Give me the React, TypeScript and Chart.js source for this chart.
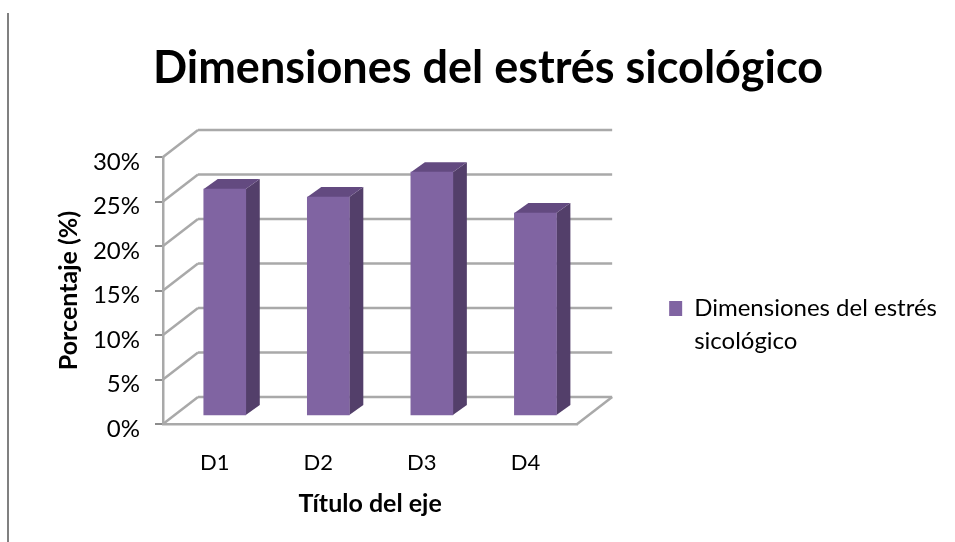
import React, { useEffect, useRef } from "react";
import { Chart, registerables } from "chart.js";

Chart.register(...registerables);

const titleText = "Dimensiones del estrés sicológico";
const seriesName = ["Dimensiones del estrés", "sicológico"];
const categories = ["D1", "D2", "D3", "D4"];
const values = [25.5, 24.6, 27.4, 22.8];
const yTitle = "Porcentaje (%)";
const xTitle = "Título del eje";

const FONT = "Lato, 'Open Sans', sans-serif";
const GRID = "#a9a9a9";
const WALL_DX = 35;
const WALL_DY = 27;
const BAR_DX = 10;
const BAR_DY = 8;
const SIDE_DX = 14;
const SIDE_DY = 10;

const line = (ctx: CanvasRenderingContext2D, x1: number, y1: number, x2: number, y2: number) => {
  ctx.beginPath();
  ctx.moveTo(x1, y1);
  ctx.lineTo(x2, y2);
  ctx.stroke();
};

const wall3d = {
  id: "wall3d",
  beforeDatasetsDraw(chart: any) {
    const { ctx, chartArea: a, scales } = chart;
    ctx.save();
    ctx.strokeStyle = GRID;
    ctx.lineWidth = 2.5;
    scales.y.ticks.forEach((t: any) => {
      const y = scales.y.getPixelForValue(t.value);
      line(ctx, a.left, y, a.left + WALL_DX, y - WALL_DY);
      line(ctx, a.left + WALL_DX, y - WALL_DY, a.right + WALL_DX, y - WALL_DY);
    });
    line(ctx, a.right, a.bottom, a.right + WALL_DX, a.bottom - WALL_DY);
    ctx.restore();
  },
  beforeDatasetDraw(chart: any) {
    const ctx = chart.ctx;
    ctx.save();
    ctx.translate(BAR_DX, -BAR_DY);
    chart.getDatasetMeta(0).data.forEach((b: any) => {
      const l = b.x - b.width / 2;
      const r = b.x + b.width / 2;
      ctx.fillStyle = "#533f6a";
      ctx.beginPath();
      ctx.moveTo(r, b.y);
      ctx.lineTo(r + SIDE_DX, b.y - SIDE_DY);
      ctx.lineTo(r + SIDE_DX, b.base - SIDE_DY);
      ctx.lineTo(r, b.base);
      ctx.closePath();
      ctx.fill();
      ctx.fillStyle = "#634a80";
      ctx.beginPath();
      ctx.moveTo(l, b.y);
      ctx.lineTo(l + SIDE_DX, b.y - SIDE_DY);
      ctx.lineTo(r + SIDE_DX, b.y - SIDE_DY);
      ctx.lineTo(r, b.y);
      ctx.closePath();
      ctx.fill();
    });
  },
  afterDatasetDraw(chart: any) {
    chart.ctx.restore();
  },
};

export default function App() {
  const ref = useRef<HTMLCanvasElement>(null);
  useEffect(() => {
    const chart = new Chart(ref.current!, {
      type: "bar",
      data: {
        labels: categories,
        datasets: [
          {
            label: seriesName.join(" "),
            data: values,
            backgroundColor: "#8064a2",
            borderWidth: 0,
            barThickness: 42,
            clip: false,
          } as any,
        ],
      },
      plugins: [wall3d],
      options: {
        animation: false,
        responsive: false,
        layout: { padding: { left: 29, right: 8, top: 0, bottom: 0 } },
        plugins: {
          tooltip: { enabled: false },
          title: {
            display: true,
            text: titleText,
            color: "#000",
            font: { family: FONT, size: 45, weight: "bold", lineHeight: 1.2 },
            padding: { top: 41, bottom: 62 },
          },
          legend: {
            position: "right",
            align: "start",
            maxWidth: 400,
            title: { display: true, text: " ", color: "#fff", padding: { top: 272, bottom: 0 } },
            labels: {
              boxWidth: 13,
              boxHeight: 15,
              color: "#000",
              padding: 10,
              font: { family: FONT, size: 24, lineHeight: 1.375 },
              generateLabels: () => [
                { text: seriesName, fillStyle: "#8064a2", strokeStyle: "#8064a2", fontColor: "#000", lineWidth: 0, datasetIndex: 0 } as any,
              ],
            },
          },
        },
        scales: {
          x: {
            afterFit: (s: any) => { s.height = 118; },
            grid: { display: false },
            border: { color: GRID, width: 2.5 },
            ticks: { color: "#000", padding: 18, font: { family: FONT, size: 22, lineHeight: 1.2 } },
            title: {
              display: true,
              text: xTitle,
              color: "#000",
              font: { family: FONT, size: 25, weight: "bold", lineHeight: 1.2 },
              padding: { top: 23, bottom: 23 },
            },
          },
          y: {
            min: 0,
            max: 30,
            afterFit: (s: any) => { s.width = 134; },
            grid: { drawOnChartArea: false, color: "#8c8c8c", lineWidth: 2, tickLength: 8 },
            border: { color: GRID, width: 2.5 },
            ticks: {
              stepSize: 5,
              color: "#000",
              padding: 15,
              labelOffset: 5,
              font: { family: FONT, size: 24 },
              callback: (v: any) => v + "%",
            },
            title: {
              display: true,
              text: yTitle,
              color: "#000",
              font: { family: FONT, size: 25, weight: "bold", lineHeight: 1.2 },
              padding: { top: 25, bottom: 0 },
            },
          },
          spacer: {
            type: "linear",
            position: "right",
            display: true,
            afterFit: (s: any) => { s.width = 82; },
            grid: { display: false },
            border: { display: false },
            ticks: { display: false },
          },
        },
      } as any,
    });
    return () => chart.destroy();
  }, []);
  return (
    <div style={{ position: "absolute", left: 0, top: 0, width: 955, height: 542, background: "#fff", overflow: "hidden" }}>
      <div style={{ position: "absolute", left: 7, top: 13, width: 2, height: 529, background: "#808080" }} />
      <canvas ref={ref} width={955} height={542} style={{ position: "absolute", left: 0, top: 0, filter: "blur(0.6px)" }} />
    </div>
  );
}
